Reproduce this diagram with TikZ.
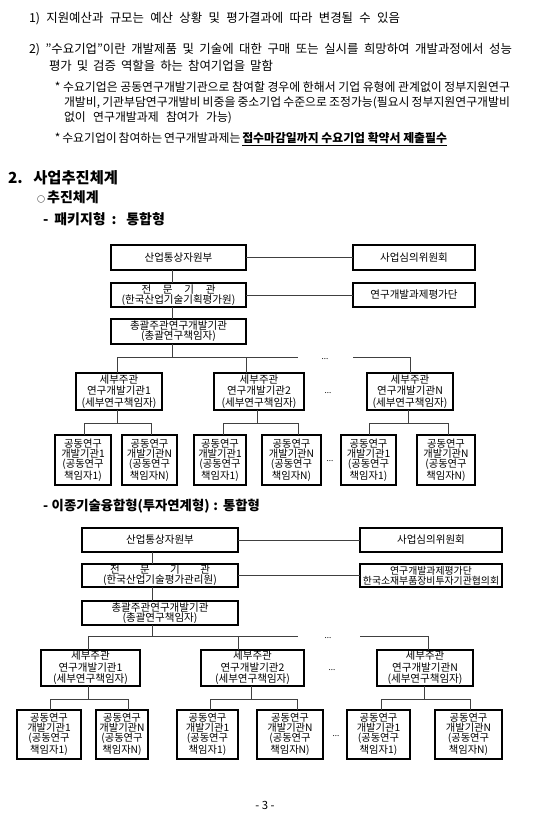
\documentclass[tikz,border=0pt]{standalone}
\usepackage{fontspec}
\setmainfont{Noto Sans CJK KR}
\usetikzlibrary{positioning}
\tikzset{wh/.style 2 args={minimum width=#1*0.75pt,minimum height=#2*0.75pt}}
\begin{document}
\begin{tikzpicture}[x=0.75pt,y=-0.75pt,every node/.style={inner sep=0pt,outer sep=0pt}]
\tikzstyle{box}=[draw,line width=0.9pt,align=center,font=\fontsize{7.9}{7.6}\selectfont]
\tikzstyle{subbox}=[box,font=\fontsize{7.9}{8.6}\selectfont]
\tikzstyle{jbox}=[box,font=\fontsize{7.7}{7.6}\selectfont]
\tikzstyle{link}=[line width=0.6pt,draw=black!75]
\tikzstyle{txt}=[anchor=base west,font=\fontsize{9.3}{10}\selectfont]
\tikzstyle{note}=[anchor=base west,font=\fontsize{8.9}{10}\selectfont]
\tikzstyle{head}=[anchor=base west,font=\fontsize{10.5}{12}\selectfont\bfseries]
\tikzstyle{dots}=[font=\fontsize{6}{6}\selectfont]
\useasboundingbox (0,0) rectangle (553,815);

% notes above the chart
\node[txt] (n1) at (29,22) {\makebox[278.25pt][s]{1) 지원예산과 규모는 예산 상황 및 평가결과에 따라 변경될 수 있음}};
\node[txt] (n2) at (29,53) {\makebox[362.25pt][s]{2) "수요기업"이란 개발제품 및 기술에 대한 구매 또는 실시를 희망하여 개발과정에서 성능}};
\node[txt] (n3) at (49,70) {\makebox[168pt][s]{평가 및 검증 역할을 하는 참여기업을 말함}};
\node[note] (n4) at (55,91) {\makebox[341.25pt][s]{* 수요기업은 공동연구개발기관으로 참여할 경우에 한해서 기업 유형에 관계없이 정부지원연구}};
\node[note] (n5) at (64,106) {\makebox[334.5pt][s]{개발비, 기관부담연구개발비 비중을 중소기업 수준으로 조정가능(필요시 정부지원연구개발비}};
\node[note] (n6) at (64,121) {\makebox[126pt][s]{없이 연구개발과제 참여가 가능)}};
\node[note] (n7) at (55,142) {\makebox[293.25pt][s]{* 수요기업이 참여하는 연구개발과제는 \underline{\bfseries 접수마감일까지 수요기업 확약서 제출필수}}};
\node[head,font=\fontsize{11.5}{12}\selectfont\bfseries] (h1) at (8,183) {\makebox[82.5pt][s]{2. 사업추진체계}};
\node[head] (h2) at (37,202) {\makebox[45pt][s]{{\fontsize{6}{6}\selectfont ○} 추진체계}};
\node[head] (h3) at (43,224) {\makebox[91.5pt][s]{- 패키지형 : 통합형}};
\node[head,font=\fontsize{10}{12}\selectfont\bfseries] (h4) at (43,510) {\makebox[162.75pt][s]{- 이종기술융합형(투자연계형) : 통합형}};
\node[font=\fontsize{8.5}{9}\selectfont] (page) at (265,805) {- 3 -};

% package type
\node[box,wh={135}{25}] (aMin) at (178.5,257.5) {산업통상자원부};
\node[box,wh={122}{25}] (aCom) at (414,257.5) {사업심의위원회};
\node[box,wh={135}{24}] (aAgency) at (178.5,295) {\makebox[55.5pt][s]{전 문 기 관}\\(한국산업기술기획평가원)};
\node[box,wh={122}{24}] (aEval) at (414,295) {연구개발과제평가단};
\node[box,wh={135}{25}] (aLead) at (178.5,331.5) {총괄주관연구개발기관\\(총괄연구책임자)};
\node[subbox,wh={86}{37}] (aSub1) at (119,391.5) {세부주관\\연구개발기관1\\(세부연구책임자)};
\node[subbox,wh={90}{37}] (aSub2) at (259,391.5) {세부주관\\연구개발기관2\\(세부연구책임자)};
\node[subbox,wh={86}{37}] (aSubN) at (410,391.5) {세부주관\\연구개발기관N\\(세부연구책임자)};
\node[jbox,wh={56}{50}] (aJ11) at (83,460) {공동연구\\개발기관1\\(공동연구\\책임자1)};
\node[jbox,wh={55}{50}] (aJ1N) at (149.5,460) {공동연구\\개발기관N\\(공동연구\\책임자N)};
\node[jbox,wh={52}{50}] (aJ21) at (220,460) {공동연구\\개발기관1\\(공동연구\\책임자1)};
\node[jbox,wh={59}{50}] (aJ2N) at (291.5,460) {공동연구\\개발기관N\\(공동연구\\책임자N)};
\node[jbox,wh={55}{50}] (aJN1) at (368.5,460) {공동연구\\개발기관1\\(공동연구\\책임자1)};
\node[jbox,wh={58}{50}] (aJNN) at (446,460) {공동연구\\개발기관N\\(공동연구\\책임자N)};
\node[dots] (aDot1) at (325,359) {...};
\node[dots] (aDot2) at (328,393) {...};
\node[dots] (aDot3) at (330,461) {...};

\coordinate (aTrunk) at (172,357);
\coordinate (aBus1) at (117,357);
\coordinate (aBus2) at (246,357);
\coordinate (aBusE) at (298,357);
\coordinate (aBusS) at (353,357);
\coordinate (aBusN) at (410,357);
\coordinate (aT1) at (117,423); \coordinate (aT1l) at (84,423); \coordinate (aT1r) at (151,423);
\coordinate (aT2) at (257,423); \coordinate (aT2l) at (223,423); \coordinate (aT2r) at (298,423);
\coordinate (aTN) at (408,423); \coordinate (aTNl) at (369,423); \coordinate (aTNr) at (448,423);
\draw[link] (aMin) -- (aCom);
\draw[link] (aAgency) -- (aEval);
\draw[link] (aMin.south -| aTrunk) -- (aAgency.north -| aTrunk);
\draw[link] (aAgency.south -| aTrunk) -- (aLead.north -| aTrunk);
\draw[link] (aLead.south -| aTrunk) -- (aTrunk);
\draw[link] (aBus1) -- (aBusE);
\draw[link] (aBusS) -- (aBusN);
\draw[link] (aBus1) -- (aSub1.north -| aBus1);
\draw[link] (aBus2) -- (aSub2.north -| aBus2);
\draw[link] (aBusN) -- (aSubN.north -| aBusN);
\draw[link] (aSub1.south -| aT1) -- (aT1);
\draw[link] (aSub2.south -| aT2) -- (aT2);
\draw[link] (aSubN.south -| aTN) -- (aTN);
\draw[link] (aJ11.north -| aT1l) |- (aT1r) -- (aJ1N.north -| aT1r);
\draw[link] (aJ21.north -| aT2l) |- (aT2r) -- (aJ2N.north -| aT2r);
\draw[link] (aJN1.north -| aTNl) |- (aTNr) -- (aJNN.north -| aTNr);

% convergence type
\node[box,wh={156}{24}] (bMin) at (160,540) {산업통상자원부};
\node[box,wh={142}{24}] (bCom) at (431,540) {사업심의위원회};
\node[box,wh={156}{23}] (bAgency) at (160,575.5) {\makebox[75pt][s]{전 문 기 관}\\(한국산업기술평가관리원)};
\node[box,wh={142}{23},font=\fontsize{7.4}{7.6}\selectfont] (bEval) at (431,575.5) {연구개발과제평가단\\한국소재부품장비투자기관협의회};
\node[box,wh={156}{24}] (bLead) at (160,613) {총괄주관연구개발기관\\(총괄연구책임자)};
\node[subbox,wh={99}{36}] (bSub1) at (90.5,668) {세부주관\\연구개발기관1\\(세부연구책임자)};
\node[subbox,wh={103}{36}] (bSub2) at (252.5,668) {세부주관\\연구개발기관2\\(세부연구책임자)};
\node[subbox,wh={96}{36}] (bSubN) at (425,668) {세부주관\\연구개발기관N\\(세부연구책임자)};
\node[jbox,wh={64}{49}] (bJ11) at (49,734.5) {공동연구\\개발기관1\\(공동연구\\책임자1)};
\node[jbox,wh={52}{49}] (bJ1N) at (122,734.5) {공동연구\\개발기관N\\(공동연구\\책임자N)};
\node[jbox,wh={61}{49}] (bJ21) at (207.5,734.5) {공동연구\\개발기관1\\(공동연구\\책임자1)};
\node[jbox,wh={66}{49}] (bJ2N) at (290,734.5) {공동연구\\개발기관N\\(공동연구\\책임자N)};
\node[jbox,wh={63}{49}] (bJN1) at (378.5,734.5) {공동연구\\개발기관1\\(공동연구\\책임자1)};
\node[jbox,wh={67}{49}] (bJNN) at (468.5,734.5) {공동연구\\개발기관N\\(공동연구\\책임자N)};
\node[dots] (bDot1) at (328,638) {...};
\node[dots] (bDot2) at (332,670) {...};
\node[dots] (bDot3) at (336,736) {...};

\coordinate (bTrunk) at (152,636);
\coordinate (bBus1) at (88,636);
\coordinate (bBus2) at (238,636);
\coordinate (bBusE) at (298,636);
\coordinate (bBusS) at (360,636);
\coordinate (bBusN) at (428,636);
\coordinate (bT1) at (88,699); \coordinate (bT1l) at (50,699); \coordinate (bT1r) at (128,699);
\coordinate (bT2) at (251,699); \coordinate (bT2l) at (210,699); \coordinate (bT2r) at (297,699);
\coordinate (bTN) at (424,699); \coordinate (bTNl) at (381,699); \coordinate (bTNr) at (470,699);
\draw[link] (bMin) -- (bCom);
\draw[link] (bAgency) -- (bEval);
\draw[link] (bMin.south -| bTrunk) -- (bAgency.north -| bTrunk);
\draw[link] (bAgency.south -| bTrunk) -- (bLead.north -| bTrunk);
\draw[link] (bLead.south -| bTrunk) -- (bTrunk);
\draw[link] (bBus1) -- (bBusE);
\draw[link] (bBusS) -- (bBusN);
\draw[link] (bBus1) -- (bSub1.north -| bBus1);
\draw[link] (bBus2) -- (bSub2.north -| bBus2);
\draw[link] (bBusN) -- (bSubN.north -| bBusN);
\draw[link] (bSub1.south -| bT1) -- (bT1);
\draw[link] (bSub2.south -| bT2) -- (bT2);
\draw[link] (bSubN.south -| bTN) -- (bTN);
\draw[link] (bJ11.north -| bT1l) |- (bT1r) -- (bJ1N.north -| bT1r);
\draw[link] (bJ21.north -| bT2l) |- (bT2r) -- (bJ2N.north -| bT2r);
\draw[link] (bJN1.north -| bTNl) |- (bTNr) -- (bJNN.north -| bTNr);
\end{tikzpicture}
\end{document}
